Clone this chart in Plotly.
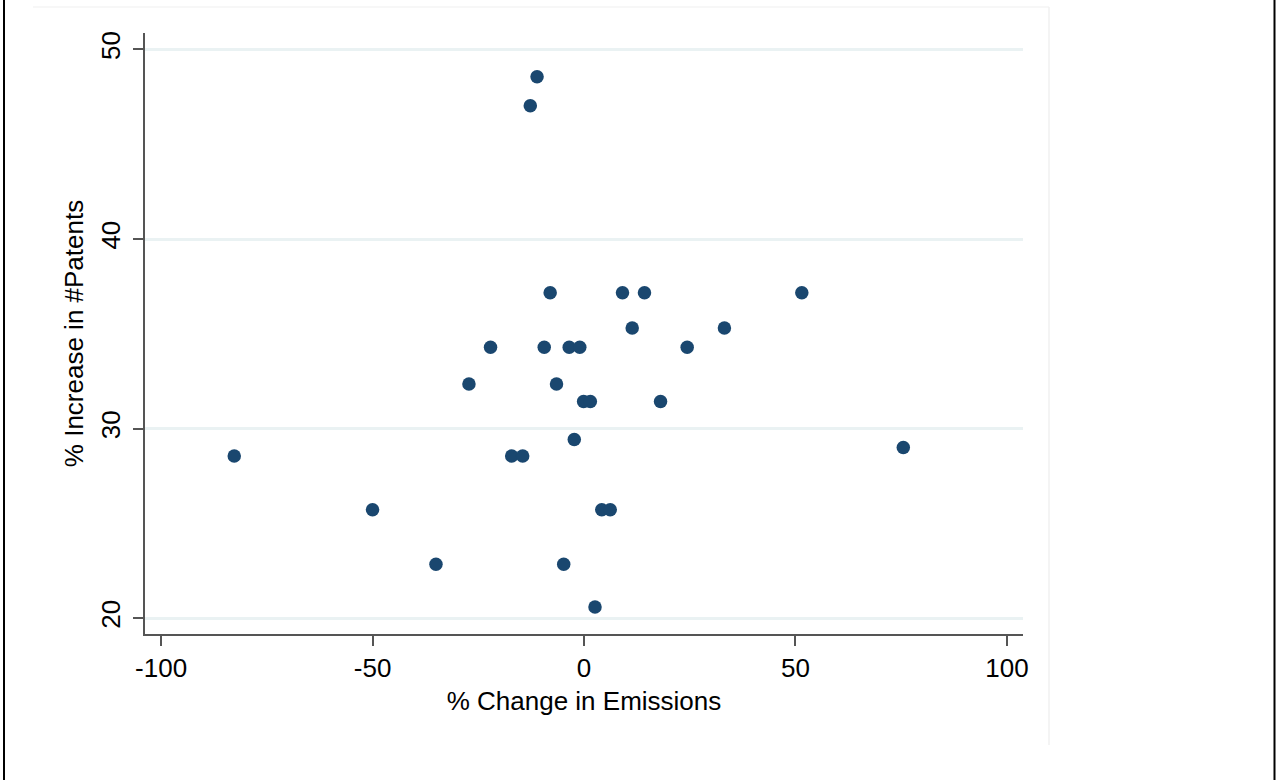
import plotly.graph_objects as go

# Data
emissions_change = [-82.7, -50.0, -35.0, -27.2, -22.1, -17.1, -14.5, -12.7, -11.1, -9.4,
                    -8.0, -6.5, -4.8, -3.5, -2.3, -1.0, -0.1, 1.5, 2.6, 4.2,
                    6.2, 9.1, 11.4, 14.3, 18.1, 24.4, 33.2, 51.5, 75.5]
patents_increase = [28.55, 25.72, 22.84, 32.35, 34.29, 28.55, 28.55, 47.03, 48.56, 34.29,
                    37.16, 32.35, 22.84, 34.29, 29.42, 34.29, 31.43, 31.43, 20.58, 25.72,
                    25.72, 37.16, 35.31, 37.16, 31.43, 34.29, 35.31, 37.16, 29.0]
x_ticks = [-100, -50, 0, 50, 100]
y_ticks = [20, 30, 40, 50]

W, H = 1276, 780
L, R, T, B = 145, 253, 33, 146
pw, ph = W - L - R, H - T - B


def px_to_paper_x(px):
    return (px - L) / pw


def px_to_paper_y(py):
    return 1 - (py - T) / ph


FONT = "Liberation Sans, Arial, sans-serif"
FS = 26
NAVY = "#1a476f"

fig = go.Figure(
    go.Scatter(
        x=emissions_change,
        y=patents_increase,
        mode="markers",
        marker=dict(color=NAVY, size=13.5, line=dict(width=0)),
        hoverinfo="x+y",
    )
)

fig.update_layout(
    width=W,
    height=H,
    margin=dict(l=L, r=R, t=T, b=B, pad=0),
    paper_bgcolor="white",
    plot_bgcolor="white",
    showlegend=False,
    font=dict(family=FONT, size=FS, color="black"),
)

fig.update_xaxes(
    range=[-103.8, 103.8],
    tickvals=x_ticks,
    ticktext=[str(v) for v in x_ticks],
    ticks="outside",
    ticklen=10,
    tickwidth=1.5,
    tickcolor="#555555",
    showgrid=False,
    zeroline=False,
    showline=True,
    linecolor="#555555",
    linewidth=2,
    tickfont=dict(size=FS, family=FONT, color="black"),
    title=dict(text="% Change in Emissions", font=dict(size=FS, family=FONT), standoff=10),
)

fig.update_yaxes(
    range=[19.16, 50.87],
    tickvals=y_ticks,
    ticktext=[str(v) for v in y_ticks],
    ticks="outside",
    ticklen=10,
    tickwidth=1.5,
    tickcolor="#555555",
    showgrid=True,
    gridcolor="#eaf2f3",
    gridwidth=2.5,
    zeroline=False,
    showline=True,
    linecolor="#555555",
    linewidth=2,
    tickangle=-90,
    ticklabelstandoff=3,
    tickfont=dict(size=FS, family=FONT, color="black"),
    title=dict(text="% Increase in #Patents", font=dict(size=FS, family=FONT), standoff=4),
)

shapes = [
    # outer black frame sides
    dict(type="line", xref="paper", yref="paper",
         x0=px_to_paper_x(4), x1=px_to_paper_x(4), y0=px_to_paper_y(0), y1=px_to_paper_y(780),
         line=dict(color="black", width=2)),
    dict(type="line", xref="paper", yref="paper",
         x0=px_to_paper_x(1274.5), x1=px_to_paper_x(1274.5), y0=px_to_paper_y(0), y1=px_to_paper_y(780),
         line=dict(color="black", width=2)),
    # faint inner graph-region border (top and right)
    dict(type="line", xref="paper", yref="paper",
         x0=px_to_paper_x(33), x1=px_to_paper_x(1049), y0=px_to_paper_y(7), y1=px_to_paper_y(7),
         line=dict(color="#f4f4f4", width=1.5)),
    dict(type="line", xref="paper", yref="paper",
         x0=px_to_paper_x(1049), x1=px_to_paper_x(1049), y0=px_to_paper_y(7), y1=px_to_paper_y(745),
         line=dict(color="#f0f0f0", width=1.5)),
]
fig.update_layout(shapes=shapes)

fig.write_html(
    "out.html",
    config={"displayModeBar": False},
    post_script="document.body.style.margin='0';document.body.style.overflow='hidden';",
)
